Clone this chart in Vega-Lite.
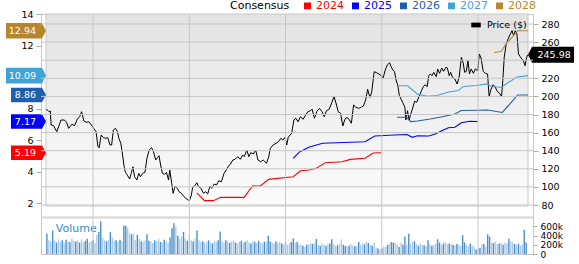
{
"$schema": "https://vega.github.io/schema/vega-lite/v6.json",
"width": 492,
"height": 240,
"autosize": {"type": "none"},
"padding": {"left": 41, "top": 14, "right": 46, "bottom": 10},
"background": "#ffffff",
"config": {
  "font": "DejaVu Sans",
  "view": {"stroke": "#c8c8c8"},
  "axis": {"labelFont": "DejaVu Sans", "labelFontSize": 9.5, "labelColor": "#000000", "tickColor": "#aaaaaa", "labelOverlap": false, "labelFlush": false}
},
"datasets": {
  "pgrid": [{"p":80},{"p":100},{"p":120},{"p":140},{"p":160},{"p":180},{"p":200},{"p":220},{"p":240},{"p":260},{"p":280}],
  "xgrid": [{"t":2022},{"t":2023},{"t":2024},{"t":2025},{"t":2026}],
  "eps": [
    {"year":"2024","t":2023.079,"e":2.65},{"year":"2024","t":2023.157,"e":2.15},{"year":"2024","t":2023.249,"e":2.15},{"year":"2024","t":2023.326,"e":2.36},{"year":"2024","t":2023.570,"e":2.36},{"year":"2024","t":2023.656,"e":3.08},{"year":"2024","t":2023.740,"e":3.10},{"year":"2024","t":2023.825,"e":3.50},{"year":"2024","t":2024.079,"e":3.67},{"year":"2024","t":2024.155,"e":4.05},{"year":"2024","t":2024.242,"e":4.10},{"year":"2024","t":2024.318,"e":4.20},{"year":"2024","t":2024.412,"e":4.56},{"year":"2024","t":2024.588,"e":4.62},{"year":"2024","t":2024.674,"e":4.77},{"year":"2024","t":2024.826,"e":4.84},{"year":"2024","t":2024.911,"e":5.17},{"year":"2024","t":2024.995,"e":5.19},
    {"year":"2025","t":2024.079,"e":4.84},{"year":"2025","t":2024.148,"e":5.26},{"year":"2025","t":2024.249,"e":5.56},{"year":"2025","t":2024.385,"e":5.79},{"year":"2025","t":2024.606,"e":5.84},{"year":"2025","t":2024.826,"e":5.89},{"year":"2025","t":2024.927,"e":6.25},{"year":"2025","t":2025.132,"e":6.32},{"year":"2025","t":2025.260,"e":6.35},{"year":"2025","t":2025.318,"e":6.17},{"year":"2025","t":2025.369,"e":6.27},{"year":"2025","t":2025.488,"e":6.25},{"year":"2025","t":2025.555,"e":6.38},{"year":"2025","t":2025.641,"e":6.63},{"year":"2025","t":2025.692,"e":6.78},{"year":"2025","t":2025.759,"e":6.81},{"year":"2025","t":2025.827,"e":7.10},{"year":"2025","t":2025.911,"e":7.19},{"year":"2025","t":2025.997,"e":7.17},
    {"year":"2026","t":2025.158,"e":7.44},{"year":"2026","t":2025.260,"e":7.44},{"year":"2026","t":2025.298,"e":7.17},{"year":"2026","t":2025.369,"e":7.21},{"year":"2026","t":2025.504,"e":7.33},{"year":"2026","t":2025.641,"e":7.49},{"year":"2026","t":2025.759,"e":7.65},{"year":"2026","t":2025.827,"e":7.87},{"year":"2026","t":2025.997,"e":7.89},{"year":"2026","t":2026.099,"e":7.90},{"year":"2026","t":2026.252,"e":7.75},{"year":"2026","t":2026.336,"e":8.32},{"year":"2026","t":2026.412,"e":8.86},{"year":"2026","t":2026.519,"e":8.86},
    {"year":"2027","t":2025.158,"e":9.44},{"year":"2027","t":2025.267,"e":9.44},{"year":"2027","t":2025.369,"e":8.92},{"year":"2027","t":2025.471,"e":8.77},{"year":"2027","t":2025.573,"e":8.83},{"year":"2027","t":2025.695,"e":9.05},{"year":"2027","t":2025.796,"e":9.14},{"year":"2027","t":2025.847,"e":9.40},{"year":"2027","t":2025.980,"e":9.46},{"year":"2027","t":2026.092,"e":9.56},{"year":"2027","t":2026.142,"e":9.38},{"year":"2027","t":2026.244,"e":9.35},{"year":"2027","t":2026.305,"e":9.62},{"year":"2027","t":2026.407,"e":10.0},{"year":"2027","t":2026.519,"e":10.09},
    {"year":"2028","t":2026.166,"e":11.56},{"year":"2028","t":2026.239,"e":11.62},{"year":"2028","t":2026.292,"e":12.10},{"year":"2028","t":2026.353,"e":12.51},{"year":"2028","t":2026.412,"e":12.94},{"year":"2028","t":2026.519,"e":12.94}
  ],
  "last": [
    {"year":"2024","e":5.19},{"year":"2025","e":7.17},{"year":"2026","e":8.86},{"year":"2027","e":10.09},{"year":"2028","e":12.94}
  ],
  "lastPrice": [{"p":245.98}],
  "price": [
    {"t":2021.514,"p":186.1},{"t":2021.542,"p":183.1},{"t":2021.555,"p":183.9},{"t":2021.565,"p":168.4},{"t":2021.590,"p":167.6},{"t":2021.623,"p":161.0},{"t":2021.667,"p":173.9},{"t":2021.702,"p":173.9},{"t":2021.725,"p":171.4},{"t":2021.746,"p":164.7},{"t":2021.779,"p":169.2},{"t":2021.807,"p":167.6},{"t":2021.837,"p":175.0},{"t":2021.861,"p":177.6},{"t":2021.881,"p":183.1},{"t":2021.905,"p":172.8},{"t":2021.929,"p":171.4},{"t":2021.956,"p":172.0},{"t":2021.983,"p":168.4},{"t":2022.007,"p":164.7},
    {"t":2022.031,"p":161.0},{"t":2022.051,"p":144.4},{"t":2022.064,"p":143.3},{"t":2022.084,"p":157.3},{"t":2022.109,"p":154.4},{"t":2022.132,"p":153.7},{"t":2022.153,"p":154.4},{"t":2022.176,"p":146.3},{"t":2022.193,"p":146.3},{"t":2022.211,"p":162.9},{"t":2022.234,"p":164.7},{"t":2022.254,"p":161.0},{"t":2022.268,"p":153.7},{"t":2022.288,"p":148.2},{"t":2022.302,"p":138.9},{"t":2022.323,"p":122.3},{"t":2022.336,"p":116.1},{"t":2022.356,"p":113.1},{"t":2022.380,"p":108.7},{"t":2022.397,"p":115.0},
    {"t":2022.414,"p":122.3},{"t":2022.431,"p":111.3},{"t":2022.455,"p":107.6},{"t":2022.475,"p":115.0},{"t":2022.492,"p":111.3},{"t":2022.516,"p":115.0},{"t":2022.539,"p":116.1},{"t":2022.560,"p":131.6},{"t":2022.583,"p":140.8},{"t":2022.608,"p":143.3},{"t":2022.628,"p":138.9},{"t":2022.651,"p":129.7},{"t":2022.669,"p":132.3},{"t":2022.685,"p":134.5},{"t":2022.702,"p":124.2},{"t":2022.720,"p":115.0},{"t":2022.743,"p":113.9},{"t":2022.763,"p":116.1},{"t":2022.784,"p":107.6},{"t":2022.797,"p":118.7},
    {"t":2022.817,"p":104.0},{"t":2022.832,"p":92.9},{"t":2022.852,"p":101.0},{"t":2022.875,"p":98.4},{"t":2022.893,"p":94.7},{"t":2022.919,"p":92.9},{"t":2022.944,"p":89.2},{"t":2022.977,"p":86.3},{"t":2023.001,"p":84.7},{"t":2023.021,"p":91.0},{"t":2023.035,"p":99.6},{"t":2023.055,"p":101.0},{"t":2023.079,"p":104.6},{"t":2023.096,"p":100.2},{"t":2023.123,"p":98.4},{"t":2023.147,"p":92.9},{"t":2023.170,"p":94.7},{"t":2023.191,"p":92.1},{"t":2023.214,"p":101.0},{"t":2023.232,"p":98.4},
    {"t":2023.259,"p":103.2},{"t":2023.282,"p":102.1},{"t":2023.306,"p":106.8},{"t":2023.333,"p":105.7},{"t":2023.361,"p":115.0},{"t":2023.384,"p":118.7},{"t":2023.408,"p":123.1},{"t":2023.428,"p":125.3},{"t":2023.452,"p":129.7},{"t":2023.476,"p":130.5},{"t":2023.503,"p":133.4},{"t":2023.530,"p":130.5},{"t":2023.554,"p":135.2},{"t":2023.571,"p":133.4},{"t":2023.598,"p":140.8},{"t":2023.618,"p":133.4},{"t":2023.639,"p":137.8},{"t":2023.666,"p":136.4},{"t":2023.690,"p":140.8},{"t":2023.713,"p":129.7},
    {"t":2023.740,"p":127.8},{"t":2023.768,"p":129.7},{"t":2023.802,"p":126.1},{"t":2023.825,"p":133.4},{"t":2023.842,"p":142.6},{"t":2023.870,"p":146.3},{"t":2023.903,"p":148.2},{"t":2023.927,"p":150.0},{"t":2023.951,"p":153.7},{"t":2023.972,"p":151.8},{"t":2023.995,"p":154.8},{"t":2024.012,"p":146.3},{"t":2024.028,"p":154.8},{"t":2024.063,"p":159.2},{"t":2024.087,"p":173.9},{"t":2024.107,"p":175.8},{"t":2024.130,"p":172.0},{"t":2024.155,"p":177.6},{"t":2024.181,"p":174.7},{"t":2024.209,"p":179.4},
    {"t":2024.232,"p":183.1},{"t":2024.257,"p":184.2},{"t":2024.277,"p":185.7},{"t":2024.300,"p":175.8},{"t":2024.324,"p":183.1},{"t":2024.351,"p":186.8},{"t":2024.379,"p":183.1},{"t":2024.402,"p":177.6},{"t":2024.425,"p":184.2},{"t":2024.453,"p":185.7},{"t":2024.480,"p":193.0},{"t":2024.504,"p":199.7},{"t":2024.527,"p":191.6},{"t":2024.547,"p":183.1},{"t":2024.572,"p":181.3},{"t":2024.595,"p":167.3},{"t":2024.616,"p":174.7},{"t":2024.639,"p":176.9},{"t":2024.664,"p":173.9},{"t":2024.684,"p":170.3},
    {"t":2024.707,"p":190.5},{"t":2024.731,"p":188.0},{"t":2024.758,"p":186.8},{"t":2024.786,"p":188.0},{"t":2024.809,"p":189.4},{"t":2024.832,"p":196.0},{"t":2024.853,"p":207.8},{"t":2024.877,"p":199.0},{"t":2024.894,"p":204.1},{"t":2024.921,"p":227.3},{"t":2024.945,"p":226.2},{"t":2024.969,"p":224.8},{"t":2024.989,"p":223.6},{"t":2025.013,"p":220.0},{"t":2025.036,"p":229.2},{"t":2025.057,"p":234.7},{"t":2025.081,"p":237.2},{"t":2025.097,"p":232.8},{"t":2025.115,"p":229.2},{"t":2025.132,"p":227.3},
    {"t":2025.148,"p":218.1},{"t":2025.165,"p":212.6},{"t":2025.183,"p":200.8},{"t":2025.216,"p":193.5},{"t":2025.240,"p":188.0},{"t":2025.250,"p":173.9},{"t":2025.267,"p":184.2},{"t":2025.284,"p":173.9},{"t":2025.301,"p":180.6},{"t":2025.318,"p":186.1},{"t":2025.341,"p":194.6},{"t":2025.362,"p":193.5},{"t":2025.386,"p":199.7},{"t":2025.410,"p":205.6},{"t":2025.430,"p":210.7},{"t":2025.453,"p":212.9},{"t":2025.471,"p":210.7},{"t":2025.488,"p":222.9},{"t":2025.504,"p":224.8},{"t":2025.522,"p":222.9},
    {"t":2025.539,"p":226.6},{"t":2025.566,"p":221.8},{"t":2025.580,"p":230.3},{"t":2025.600,"p":225.5},{"t":2025.623,"p":231.4},{"t":2025.641,"p":227.7},{"t":2025.667,"p":232.2},{"t":2025.681,"p":231.4},{"t":2025.701,"p":222.9},{"t":2025.715,"p":226.6},{"t":2025.735,"p":221.1},{"t":2025.759,"p":219.2},{"t":2025.783,"p":213.7},{"t":2025.803,"p":221.1},{"t":2025.827,"p":243.2},{"t":2025.844,"p":237.7},{"t":2025.861,"p":226.6},{"t":2025.878,"p":227.7},{"t":2025.895,"p":239.4},{"t":2025.911,"p":224.8},
    {"t":2025.929,"p":230.3},{"t":2025.952,"p":225.5},{"t":2025.972,"p":230.3},{"t":2025.997,"p":228.4},{"t":2026.013,"p":246.9},{"t":2026.031,"p":242.4},{"t":2026.054,"p":227.7},{"t":2026.074,"p":225.5},{"t":2026.099,"p":224.8},{"t":2026.115,"p":199.7},{"t":2026.132,"p":207.1},{"t":2026.156,"p":212.9},{"t":2026.176,"p":210.7},{"t":2026.200,"p":205.6},{"t":2026.224,"p":203.4},{"t":2026.244,"p":199.7},{"t":2026.257,"p":217.3},{"t":2026.272,"p":243.2},{"t":2026.292,"p":257.9},{"t":2026.312,"p":263.4},
    {"t":2026.336,"p":269.0},{"t":2026.353,"p":272.6},{"t":2026.369,"p":267.1},{"t":2026.387,"p":272.6},{"t":2026.404,"p":269.0},{"t":2026.420,"p":246.9},{"t":2026.438,"p":243.9},{"t":2026.455,"p":241.3},{"t":2026.471,"p":239.4},{"t":2026.488,"p":233.9},{"t":2026.505,"p":243.2},{"t":2026.515,"p":245.98}
  ],
  "vol": [
    {"t":2021.52,"v":440,"c":1},{"t":2021.54,"v":300,"c":0},{"t":2021.56,"v":280,"c":0},{"t":2021.58,"v":510,"c":1},{"t":2021.60,"v":300,"c":0},{"t":2021.62,"v":250,"c":1},{"t":2021.64,"v":320,"c":0},{"t":2021.66,"v":270,"c":0},{"t":2021.68,"v":300,"c":1},{"t":2021.70,"v":240,"c":0},
    {"t":2021.72,"v":310,"c":1},{"t":2021.74,"v":280,"c":0},{"t":2021.76,"v":260,"c":1},{"t":2021.78,"v":330,"c":0},{"t":2021.80,"v":290,"c":0},{"t":2021.82,"v":270,"c":1},{"t":2021.84,"v":300,"c":0},{"t":2021.86,"v":250,"c":1},{"t":2021.88,"v":320,"c":0},{"t":2021.90,"v":260,"c":0},
    {"t":2021.92,"v":290,"c":1},{"t":2021.94,"v":330,"c":1},{"t":2021.96,"v":250,"c":0},{"t":2021.98,"v":280,"c":0},{"t":2022.00,"v":300,"c":1},{"t":2022.02,"v":240,"c":0},{"t":2022.04,"v":420,"c":0},{"t":2022.06,"v":480,"c":1},{"t":2022.08,"v":710,"c":1},{"t":2022.10,"v":350,"c":0},
    {"t":2022.12,"v":300,"c":0},{"t":2022.14,"v":280,"c":1},{"t":2022.16,"v":310,"c":0},{"t":2022.18,"v":480,"c":1},{"t":2022.20,"v":360,"c":0},{"t":2022.22,"v":290,"c":0},{"t":2022.24,"v":300,"c":1},{"t":2022.26,"v":260,"c":0},{"t":2022.28,"v":310,"c":1},{"t":2022.30,"v":280,"c":0},
    {"t":2022.32,"v":620,"c":1},{"t":2022.34,"v":610,"c":1},{"t":2022.36,"v":560,"c":0},{"t":2022.38,"v":450,"c":0},{"t":2022.40,"v":430,"c":1},{"t":2022.42,"v":440,"c":0},{"t":2022.44,"v":300,"c":0},{"t":2022.46,"v":420,"c":1},{"t":2022.48,"v":330,"c":0},{"t":2022.50,"v":280,"c":1},
    {"t":2022.52,"v":260,"c":0},{"t":2022.54,"v":300,"c":0},{"t":2022.56,"v":430,"c":1},{"t":2022.58,"v":290,"c":1},{"t":2022.60,"v":270,"c":0},{"t":2022.62,"v":240,"c":0},{"t":2022.64,"v":300,"c":1},{"t":2022.66,"v":280,"c":0},{"t":2022.68,"v":330,"c":0},{"t":2022.70,"v":260,"c":1},
    {"t":2022.72,"v":250,"c":0},{"t":2022.74,"v":310,"c":1},{"t":2022.76,"v":280,"c":0},{"t":2022.78,"v":240,"c":0},{"t":2022.80,"v":360,"c":1},{"t":2022.82,"v":560,"c":1},{"t":2022.84,"v":670,"c":1},{"t":2022.86,"v":600,"c":0},{"t":2022.88,"v":400,"c":1},{"t":2022.90,"v":330,"c":0},
    {"t":2022.92,"v":380,"c":0},{"t":2022.94,"v":480,"c":1},{"t":2022.96,"v":330,"c":0},{"t":2022.98,"v":290,"c":1},{"t":2023.00,"v":400,"c":0},{"t":2023.02,"v":300,"c":0},{"t":2023.04,"v":270,"c":1},{"t":2023.06,"v":330,"c":0},{"t":2023.08,"v":510,"c":1},{"t":2023.10,"v":300,"c":0},
    {"t":2023.12,"v":260,"c":0},{"t":2023.14,"v":280,"c":1},{"t":2023.16,"v":240,"c":0},{"t":2023.18,"v":270,"c":0},{"t":2023.20,"v":300,"c":1},{"t":2023.22,"v":250,"c":0},{"t":2023.24,"v":230,"c":1},{"t":2023.26,"v":280,"c":0},{"t":2023.28,"v":260,"c":0},{"t":2023.30,"v":300,"c":1},
    {"t":2023.32,"v":490,"c":1},{"t":2023.34,"v":280,"c":0},{"t":2023.36,"v":250,"c":0},{"t":2023.38,"v":300,"c":1},{"t":2023.40,"v":270,"c":0},{"t":2023.42,"v":240,"c":1},{"t":2023.44,"v":280,"c":0},{"t":2023.46,"v":300,"c":0},{"t":2023.48,"v":250,"c":1},{"t":2023.50,"v":230,"c":0},
    {"t":2023.52,"v":270,"c":0},{"t":2023.54,"v":290,"c":1},{"t":2023.56,"v":240,"c":0},{"t":2023.58,"v":260,"c":1},{"t":2023.60,"v":300,"c":0},{"t":2023.62,"v":250,"c":0},{"t":2023.64,"v":230,"c":1},{"t":2023.66,"v":280,"c":0},{"t":2023.68,"v":260,"c":1},{"t":2023.70,"v":240,"c":0},
    {"t":2023.72,"v":290,"c":1},{"t":2023.74,"v":250,"c":0},{"t":2023.76,"v":230,"c":0},{"t":2023.78,"v":270,"c":1},{"t":2023.80,"v":260,"c":0},{"t":2023.82,"v":400,"c":1},{"t":2023.84,"v":280,"c":1},{"t":2023.86,"v":250,"c":0},{"t":2023.88,"v":230,"c":0},{"t":2023.90,"v":270,"c":1},
    {"t":2023.92,"v":240,"c":0},{"t":2023.94,"v":260,"c":0},{"t":2023.96,"v":230,"c":1},{"t":2023.98,"v":210,"c":0},{"t":2024.00,"v":250,"c":1},{"t":2024.02,"v":200,"c":0},{"t":2024.04,"v":230,"c":0},{"t":2024.06,"v":260,"c":1},{"t":2024.08,"v":340,"c":1},{"t":2024.10,"v":250,"c":0},
    {"t":2024.12,"v":260,"c":1},{"t":2024.14,"v":210,"c":0},{"t":2024.16,"v":200,"c":0},{"t":2024.18,"v":180,"c":1},{"t":2024.20,"v":150,"c":0},{"t":2024.22,"v":200,"c":1},{"t":2024.24,"v":210,"c":0},{"t":2024.26,"v":230,"c":0},{"t":2024.28,"v":220,"c":1},{"t":2024.30,"v":240,"c":0},
    {"t":2024.32,"v":330,"c":1},{"t":2024.34,"v":200,"c":0},{"t":2024.36,"v":180,"c":1},{"t":2024.38,"v":230,"c":0},{"t":2024.40,"v":200,"c":0},{"t":2024.42,"v":180,"c":1},{"t":2024.44,"v":210,"c":0},{"t":2024.46,"v":230,"c":1},{"t":2024.48,"v":320,"c":1},{"t":2024.50,"v":210,"c":0},
    {"t":2024.52,"v":180,"c":0},{"t":2024.54,"v":190,"c":1},{"t":2024.56,"v":220,"c":0},{"t":2024.58,"v":320,"c":0},{"t":2024.60,"v":200,"c":1},{"t":2024.62,"v":180,"c":1},{"t":2024.64,"v":170,"c":0},{"t":2024.66,"v":180,"c":1},{"t":2024.68,"v":220,"c":0},{"t":2024.70,"v":190,"c":0},
    {"t":2024.72,"v":170,"c":1},{"t":2024.74,"v":180,"c":0},{"t":2024.76,"v":260,"c":1},{"t":2024.78,"v":200,"c":0},{"t":2024.80,"v":230,"c":0},{"t":2024.82,"v":210,"c":1},{"t":2024.84,"v":270,"c":0},{"t":2024.86,"v":240,"c":1},{"t":2024.88,"v":200,"c":0},{"t":2024.90,"v":180,"c":1},
    {"t":2024.92,"v":250,"c":0},{"t":2024.94,"v":140,"c":0},{"t":2024.96,"v":120,"c":1},{"t":2024.98,"v":100,"c":0},{"t":2025.00,"v":120,"c":1},{"t":2025.02,"v":160,"c":0},{"t":2025.04,"v":150,"c":0},{"t":2025.06,"v":200,"c":1},{"t":2025.08,"v":230,"c":0},{"t":2025.10,"v":260,"c":1},
    {"t":2025.12,"v":250,"c":1},{"t":2025.14,"v":240,"c":0},{"t":2025.16,"v":200,"c":0},{"t":2025.18,"v":150,"c":1},{"t":2025.20,"v":250,"c":0},{"t":2025.22,"v":200,"c":1},{"t":2025.24,"v":380,"c":1},{"t":2025.26,"v":200,"c":0},{"t":2025.28,"v":440,"c":1},{"t":2025.30,"v":230,"c":0},
    {"t":2025.32,"v":260,"c":0},{"t":2025.34,"v":280,"c":1},{"t":2025.36,"v":220,"c":0},{"t":2025.38,"v":180,"c":1},{"t":2025.40,"v":230,"c":0},{"t":2025.42,"v":200,"c":0},{"t":2025.44,"v":190,"c":1},{"t":2025.46,"v":180,"c":0},{"t":2025.48,"v":300,"c":1},{"t":2025.50,"v":210,"c":0},
    {"t":2025.52,"v":180,"c":1},{"t":2025.54,"v":200,"c":0},{"t":2025.56,"v":230,"c":0},{"t":2025.58,"v":320,"c":1},{"t":2025.60,"v":250,"c":1},{"t":2025.62,"v":200,"c":0},{"t":2025.64,"v":230,"c":1},{"t":2025.66,"v":260,"c":0},{"t":2025.68,"v":220,"c":0},{"t":2025.70,"v":230,"c":1},
    {"t":2025.72,"v":210,"c":0},{"t":2025.74,"v":200,"c":1},{"t":2025.76,"v":190,"c":0},{"t":2025.78,"v":220,"c":1},{"t":2025.80,"v":200,"c":0},{"t":2025.82,"v":180,"c":0},{"t":2025.84,"v":410,"c":1},{"t":2025.86,"v":250,"c":1},{"t":2025.88,"v":200,"c":0},{"t":2025.90,"v":170,"c":0},
    {"t":2025.92,"v":230,"c":1},{"t":2025.94,"v":180,"c":0},{"t":2025.96,"v":160,"c":0},{"t":2025.98,"v":100,"c":1},{"t":2026.00,"v":110,"c":0},{"t":2026.02,"v":130,"c":1},{"t":2026.04,"v":210,"c":0},{"t":2026.06,"v":220,"c":1},{"t":2026.08,"v":170,"c":0},{"t":2026.10,"v":430,"c":1},
    {"t":2026.12,"v":380,"c":1},{"t":2026.14,"v":250,"c":0},{"t":2026.16,"v":240,"c":1},{"t":2026.18,"v":270,"c":0},{"t":2026.20,"v":220,"c":0},{"t":2026.22,"v":230,"c":1},{"t":2026.24,"v":240,"c":0},{"t":2026.26,"v":200,"c":1},{"t":2026.28,"v":250,"c":0},{"t":2026.30,"v":230,"c":0},
    {"t":2026.32,"v":330,"c":1},{"t":2026.34,"v":270,"c":0},{"t":2026.36,"v":250,"c":0},{"t":2026.38,"v":220,"c":1},{"t":2026.40,"v":200,"c":0},{"t":2026.42,"v":230,"c":1},{"t":2026.44,"v":180,"c":0},{"t":2026.46,"v":210,"c":0},{"t":2026.48,"v":530,"c":1},{"t":2026.50,"v":250,"c":1}
  ]
},
"layer": [
  {
    "layer": [
      {
        "data": {"values": [{}]},
        "mark": {"type": "rect", "stroke": "#c8c8c8", "strokeWidth": 1, "color": {"gradient": "linear", "x1": 0, "y1": 0, "x2": 0, "y2": 1, "stops": [{"offset": 0, "color": "#e3e3e3"}, {"offset": 1, "color": "#fcfcfc"}]}},
        "encoding": {
          "x": {"datum": 2021.511, "type": "quantitative", "axis": null},
          "x2": {"datum": 2026.519},
          "y": {"datum": 291.05, "type": "quantitative"},
          "y2": {"datum": 78.9}
        }
      },
      {
        "data": {"name": "price"},
        "mark": {"type": "line", "strokeWidth": 1, "color": "#000000"},
        "encoding": {
          "x": {"field": "t", "type": "quantitative", "scale": {"domain": [2021.511, 2026.519], "nice": false, "zero": false}, "axis": null},
          "y": {"field": "p", "type": "quantitative", "scale": {"domain": [25.86, 291.05], "nice": false, "zero": false},
                "axis": {"orient": "right", "values": [80, 120, 160, 200, 280], "grid": false, "domain": false, "tickSize": 5, "labelPadding": 3, "labelOverlap": false, "title": null}},
          "stroke": {"datum": "Price ($)", "type": "nominal", "scale": {"range": ["#000000"]},
                     "legend": {"title": null, "orient": "none", "legendX": 430, "legendY": 6, "labelFontSize": 9.5, "labelColor": "#000000",
                                "symbolType": "M-1,-0.5L1,-0.5L1,0.5L-1,0.5Z", "symbolSize": 90, "symbolFillColor": "#000000", "symbolStrokeColor": "#000000", "symbolStrokeWidth": 0, "labelOffset": 6}}
        }
      },
      {
        "data": {"name": "lastPrice"},
        "mark": {"type": "point", "filled": true, "opacity": 1, "size": 400, "strokeWidth": 0, "color": "#000000", "shape": "M0,0L0.4,-0.8L4.6,-0.8L4.6,0.8L0.4,0.8Z"},
        "encoding": {
          "x": {"datum": 2026.519, "type": "quantitative", "axis": null},
          "y": {"field": "p", "type": "quantitative"}
        }
      },
      {
        "data": {"name": "lastPrice"},
        "mark": {"type": "text", "align": "left", "baseline": "middle", "dx": 9.5, "fontSize": 9.5, "color": "#ffffff"},
        "encoding": {
          "x": {"datum": 2026.519, "type": "quantitative", "axis": null},
          "y": {"field": "p", "type": "quantitative"},
          "text": {"field": "p", "type": "quantitative", "format": ".2f"}
        }
      }
    ]
  },
  {
    "layer": [
      {
        "data": {"name": "eps"},
        "mark": {"type": "line", "strokeWidth": 1.1},
        "encoding": {
          "x": {"field": "t", "type": "quantitative", "scale": {"domain": [2021.511, 2026.519], "nice": false, "zero": false},
                "axis": {"values": [2022, 2023, 2024, 2025, 2026], "format": "d", "grid": false, "ticks": false, "domain": false, "labelPadding": 2, "labelBaseline": "top", "labelOverlap": false, "title": null}},
          "y": {"field": "e", "type": "quantitative", "scale": {"domain": [-1.238, 14], "nice": false, "zero": false},
                "axis": {"orient": "left", "values": [2, 4, 6, 8, 12, 14], "grid": false, "domain": false, "tickSize": 5, "labelPadding": 3, "labelOverlap": false, "title": null}},
          "color": {"field": "year", "type": "nominal",
                    "scale": {"domain": ["2024", "2025", "2026", "2027", "2028"], "range": ["#ff0000", "#0000ff", "#1f5fae", "#3fa3d6", "#b8862f"]},
                    "legend": {"title": "Consensus", "orient": "none", "legendX": 189, "legendY": -14, "direction": "horizontal", "titleOrient": "left",
                               "titleFontSize": 11, "titleFontWeight": "normal", "titleColor": "#000000", "titlePadding": 12, "titleBaseline": "middle",
                               "labelFontSize": 11, "symbolType": "square", "symbolSize": 30, "labelOffset": 3, "columnPadding": 5,
                               "encode": {"symbols": {"update": {"fill": {"scale": "color", "field": "value"}, "stroke": {"value": "transparent"}, "shape": {"value": "square"}}},
                                          "labels": {"update": {"fill": {"scale": "color", "field": "value"}}}}}}
        }
      },
      {
        "data": {"name": "last"},
        "transform": [{"filter": {"field": "year", "oneOf": ["2027", "2028"]}}],
        "mark": {"type": "point", "filled": true, "opacity": 1, "size": 400, "strokeWidth": 0, "shape": "M0,0L-0.4,-0.78L-4,-0.78L-4,0.78L-0.4,0.78Z"},
        "encoding": {
          "x": {"datum": 2021.511, "type": "quantitative", "axis": null},
          "y": {"field": "e", "type": "quantitative"},
          "color": {"field": "year", "type": "nominal", "legend": null}
        }
      },
      {
        "data": {"name": "last"},
        "transform": [{"filter": {"field": "year", "oneOf": ["2024", "2025", "2026"]}}],
        "mark": {"type": "point", "filled": true, "opacity": 1, "size": 400, "strokeWidth": 0, "shape": "M0,0L-0.4,-0.72L-3.5,-0.72L-3.5,0.72L-0.4,0.72Z"},
        "encoding": {
          "x": {"datum": 2021.511, "type": "quantitative", "axis": null},
          "y": {"field": "e", "type": "quantitative"},
          "color": {"field": "year", "type": "nominal", "legend": null}
        }
      },
      {
        "data": {"name": "last"},
        "mark": {"type": "text", "align": "right", "baseline": "middle", "dx": -10, "fontSize": 9.5, "color": "#ffffff"},
        "encoding": {
          "x": {"datum": 2021.511, "type": "quantitative", "axis": null},
          "y": {"field": "e", "type": "quantitative"},
          "text": {"field": "e", "type": "quantitative", "format": ".2f"}
        }
      }
    ]
  },
  {
    "layer": [
      {
        "data": {"name": "vol"},
        "mark": {"type": "bar", "size": 1.4},
        "encoding": {
          "x": {"field": "t", "type": "quantitative", "scale": {"domain": [2021.511, 2026.519], "nice": false, "zero": false}, "axis": null},
          "y": {"field": "v", "type": "quantitative", "scale": {"domain": [0, 5236], "nice": false},
                "axis": {"orient": "right", "values": [0, 200, 400, 600], "labelExpr": "datum.value == 0 ? '0' : datum.value + 'k'", "grid": false, "domain": false, "tickSize": 4, "labelPadding": 3, "labelFontSize": 9, "labelOverlap": false, "title": null}},
          "fill": {"field": "c", "type": "nominal", "scale": {"domain": [0, 1], "range": ["#a9cbe8", "#4b8fca"]}, "legend": null}
        }
      },
      {
        "data": {"values": [{}]},
        "mark": {"type": "rule", "color": "#dddddd", "strokeWidth": 2.5},
        "encoding": {"y": {"datum": 796, "type": "quantitative"}}
      },
      {
        "data": {"values": [{}]},
        "mark": {"type": "text", "text": "Volume", "align": "left", "baseline": "middle", "fontSize": 11, "color": "#3a87c9"},
        "encoding": {
          "x": {"datum": 2021.613, "type": "quantitative", "axis": null},
          "y": {"datum": 545, "type": "quantitative"}
        }
      }
    ]
  },
  {
    "layer": [
      {
        "data": {"name": "pgrid"},
        "mark": {"type": "rule", "color": "#c6c6c6", "strokeWidth": 1},
        "encoding": {
          "y": {"field": "p", "type": "quantitative", "scale": {"domain": [25.86, 291.05], "nice": false, "zero": false},
                "axis": {"orient": "right", "values": [100, 140, 180, 220, 260], "grid": false, "domain": false, "tickSize": 5, "labelPadding": 3, "labelOverlap": false, "title": null}}
        }
      },
      {
        "data": {"name": "xgrid"},
        "mark": {"type": "rule", "color": "#c6c6c6", "strokeWidth": 1},
        "encoding": {"x": {"field": "t", "type": "quantitative", "scale": {"domain": [2021.511, 2026.519], "nice": false, "zero": false}, "axis": null}}
      }
    ]
  }
],
"resolve": {"scale": {"y": "independent"}, "axis": {"y": "independent"}}
}
